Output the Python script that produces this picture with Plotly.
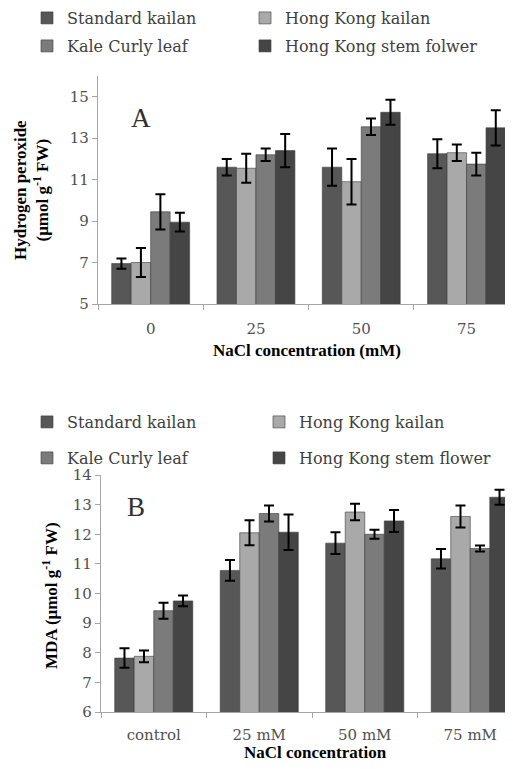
import plotly.graph_objects as go

# ---------------- data ----------------
series = ["Standard kailan", "Hong Kong kailan", "Kale Curly leaf", "Hong Kong stem folwer"]
series_b = ["Standard kailan", "Hong Kong kailan", "Kale Curly leaf", "Hong Kong stem flower"]
colors = ["#575757", "#a9a9a9", "#7b7b7b", "#454545"]

cats_a = ["0", "25", "50", "75"]
h2o2 = [
    [6.95, 11.6, 11.6, 12.25],
    [7.0, 11.55, 10.9, 12.3],
    [9.45, 12.2, 13.55, 11.75],
    [8.95, 12.4, 14.25, 13.5],
]
h2o2_err = [
    [0.25, 0.4, 0.9, 0.7],
    [0.7, 0.7, 1.1, 0.4],
    [0.85, 0.3, 0.4, 0.55],
    [0.45, 0.8, 0.6, 0.85],
]

cats_b = ["control", "25 mM", "50 mM", "75 mM"]
mda = [
    [7.82, 10.78, 11.7, 11.17],
    [7.88, 12.05, 12.75, 12.6],
    [9.42, 12.7, 12.0, 11.52],
    [9.75, 12.07, 12.45, 13.25],
]
mda_err = [
    [0.33, 0.35, 0.37, 0.33],
    [0.2, 0.42, 0.28, 0.37],
    [0.27, 0.27, 0.15, 0.1],
    [0.18, 0.6, 0.37, 0.25],
]

# page body has an 8px margin: the figure is drawn 8px in from the window edge
OFF = 8
W, H = 513 - 2 * OFF, 769 - 2 * OFF
def px_x(p):
    return (p - OFF) / W
def px_y(p):
    return 1 - (p - OFF) / H

fig = go.Figure()
leg_names_a = ["legend", "legend2", "legend3", "legend4"]
leg_names_b = ["legend5", "legend6", "legend7", "legend8"]

for i in range(4):
    fig.add_trace(go.Bar(
        x=cats_a, y=h2o2[i], name=series[i], xaxis="x", yaxis="y",
        marker=dict(color=colors[i], line=dict(color="#3a3a3a", width=0.6)),
        error_y=dict(type="data", array=h2o2_err[i], color="black", thickness=2, width=5),
        legend=leg_names_a[i],
    ))
for i in range(4):
    fig.add_trace(go.Bar(
        x=cats_b, y=mda[i], name=series_b[i], xaxis="x2", yaxis="y2",
        marker=dict(color=colors[i], line=dict(color="#3a3a3a", width=0.6)),
        error_y=dict(type="data", array=mda_err[i], color="black", thickness=2, width=5),
        legend=leg_names_b[i],
    ))

tickfont = dict(family="DejaVu Serif", size=15, color="#505050")
axis_common = dict(showline=True, linecolor="#a6a6a6", linewidth=1.2, ticks="outside",
                   tickcolor="#a6a6a6", ticklen=5, showgrid=False, zeroline=False,
                   tickfont=tickfont)

fig.update_layout(
    width=W, height=H,
    margin=dict(l=0, r=0, t=0, b=0, autoexpand=False),
    paper_bgcolor="white", plot_bgcolor="white",
    barmode="group", bargap=0.26, bargroupgap=0,
    showlegend=True,
    xaxis=dict(domain=[px_x(98), 1], anchor="y", type="category",
               range=[-0.5, 3.5 - (98 + 4 * 105.3 - 505) / 105.3], tickson="boundaries",
               ticklabelstandoff=11, **axis_common),
    yaxis=dict(domain=[px_y(304), px_y(76)], anchor="x", range=[5, 16],
               tickvals=[5, 7, 9, 11, 13, 15], **axis_common),
    xaxis2=dict(domain=[px_x(101), 1], anchor="y2", type="category",
                range=[-0.5, 3.5 - (101 + 4 * 105.5 - 505) / 105.5], tickson="boundaries",
                ticklabelstandoff=9, **axis_common),
    yaxis2=dict(domain=[px_y(712), px_y(475)], anchor="x2", range=[6, 14],
                dtick=1, **axis_common),
)

legfont = dict(family="DejaVu Serif", size=16, color="#404040")
def leg(xp, yp):
    return dict(orientation="v", x=px_x(xp), y=px_y(yp), xanchor="left", yanchor="middle",
                font=legfont, bgcolor="rgba(0,0,0,0)", itemclick=False,
                itemdoubleclick=False, itemwidth=30)
leg_pos_a = [(27, 18), (245, 18), (27, 46), (245, 46)]
leg_pos_b = [(27, 422), (259, 422), (27, 458), (259, 458)]
for name, (xp, yp) in zip(leg_names_a, leg_pos_a):
    fig.update_layout({name: leg(xp, yp)})
for name, (xp, yp) in zip(leg_names_b, leg_pos_b):
    fig.update_layout({name: leg(xp, yp)})

title_font = dict(family="Liberation Serif", size=17, color="black")
fig.add_annotation(x=px_x(31), y=px_y(190), xref="paper", yref="paper", textangle=-90,
                   text="<b>Hydrogen peroxide</b><br><b>(μmol g<sup>-1</sup> FW)</b>",
                   showarrow=False, font=title_font, xanchor="center", yanchor="middle")
fig.add_annotation(x=px_x(307), y=px_y(350), xref="paper", yref="paper",
                   text="<b>NaCl concentration (mM)</b>", showarrow=False, font=title_font,
                   xanchor="center", yanchor="middle")
fig.add_annotation(x=px_x(50), y=px_y(596), xref="paper", yref="paper", textangle=-90,
                   text="<b>MDA (μmol g<sup>-1</sup> FW)</b>",
                   showarrow=False, font=title_font, xanchor="center", yanchor="middle")
fig.add_annotation(x=px_x(315), y=px_y(752), xref="paper", yref="paper",
                   text="<b>NaCl concentration</b>", showarrow=False, font=title_font,
                   xanchor="center", yanchor="middle")
panel_font = dict(family="Liberation Serif", size=27, color="#303030")
fig.add_annotation(x=px_x(141), y=px_y(118), xref="paper", yref="paper", text="A",
                   showarrow=False, font=panel_font, xanchor="center", yanchor="middle")
fig.add_annotation(x=px_x(136), y=px_y(507), xref="paper", yref="paper", text="B",
                   showarrow=False, font=panel_font, xanchor="center", yanchor="middle")

fig.write_html("out.html")
